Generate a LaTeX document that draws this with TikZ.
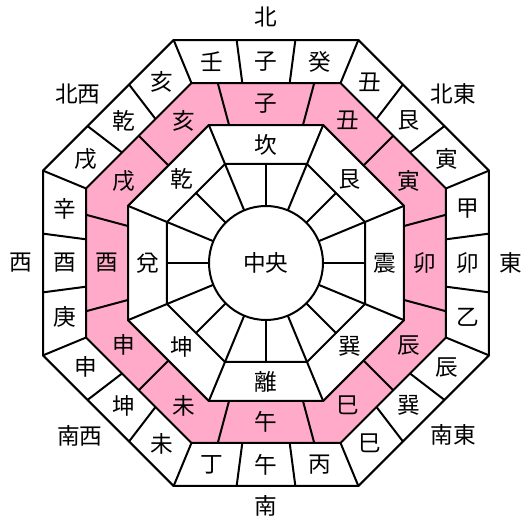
\documentclass[tikz,border=0pt]{standalone}
\usepackage{fontspec}
\newfontfamily\jp{Noto Sans CJK JP}
\definecolor{pinkfill}{RGB}{255,170,200}
\newcommand{\oct}[1]{(22.5:#1) -- (67.5:#1) -- (112.5:#1) -- (157.5:#1) -- (202.5:#1) -- (247.5:#1) -- (292.5:#1) -- (337.5:#1) -- cycle}
\begin{document}
\begin{tikzpicture}[x=0.75pt,y=0.75pt,line width=1.5pt,line join=miter,
  lbl/.style={font=\jp\fontsize{17}{18}\selectfont,inner sep=0pt},
  edge/.style={draw=black,line width=1.5pt}]
\useasboundingbox (-266,-261) rectangle (266,263);
% pink ring
\fill[pinkfill,even odd rule] \oct{194.83} \oct{149.37};
% octagons and circle
\draw[edge] \oct{241.37};
\draw[edge] \oct{194.83};
\draw[edge] \oct{149.37};
\draw[edge] \oct{107.16};
\draw[edge] (0,0) circle (57);
% outer ring dividers (24)
\foreach \k in {0,...,23}{
  \pgfmathsetmacro\t{7.5+15*\k}
  \pgfmathsetmacro\c{cos(\t-45*round(\t/45))}
  \draw[edge] ({90-\t}:{223/\c}) -- ({90-\t}:{180/\c});
}
% pink ring dividers (12)
\foreach \k in {0,...,11}{
  \pgfmathsetmacro\t{15+30*\k}
  \pgfmathsetmacro\c{cos(\t-45*round(\t/45))}
  \draw[edge] ({90-\t}:{180/\c}) -- ({90-\t}:{138/\c});
}
% trigram ring dividers (8)
\foreach \k in {0,...,7}{
  \pgfmathsetmacro\t{22.5+45*\k}
  \pgfmathsetmacro\c{cos(\t-45*round(\t/45))}
  \draw[edge] ({90-\t}:{138/\c}) -- ({90-\t}:{99/\c});
}
% inner band dividers (16)
\foreach \k in {0,...,15}{
  \pgfmathsetmacro\t{22.5*\k}
  \pgfmathsetmacro\c{cos(\t-45*round(\t/45))}
  \draw[edge] ({90-\t}:{99/\c}) -- ({90-\t}:57);
}
% outer ring labels
\foreach \n [count=\i from 0] in {壬,子,癸,丑,艮,寅,甲,卯,乙,辰,巽,巳,丙,午,丁,未,坤,申,庚,酉,辛,戌,乾,亥}{
  \pgfmathsetmacro\t{-15+15*\i}
  \pgfmathsetmacro\c{cos(\t-45*round(\t/45))}
  \node[lbl] (o\i) at ({90-\t}:{201.5/\c}) {\n};
}
% pink ring labels
\foreach \n [count=\i from 0] in {子,丑,寅,卯,辰,巳,午,未,申,酉,戌,亥}{
  \pgfmathsetmacro\t{30*\i}
  \pgfmathsetmacro\c{cos(\t-45*round(\t/45))}
  \node[lbl] (p\i) at ({90-\t}:{159/\c}) {\n};
}
% trigram labels
\foreach \n [count=\i from 0] in {坎,艮,震,巽,離,坤,兌,乾}{
  \pgfmathsetmacro\t{45*\i}
  \node[lbl] (g\i) at ({90-\t}:118.5) {\n};
}
\node[lbl] (center) at (0,0) {中央};
% directions
\node[lbl] (north) at (0,246) {北};
\node[lbl] (south) at (0,-243) {南};
\node[lbl] (west) at (-245,0) {西};
\node[lbl] (east) at (245,0) {東};
\node[lbl] (nw) at (-188,169) {北西};
\node[lbl] (ne) at (187,169) {北東};
\node[lbl] (sw) at (-186,-173) {南西};
\node[lbl] (se) at (187,-172) {南東};
\end{tikzpicture}
\end{document}
